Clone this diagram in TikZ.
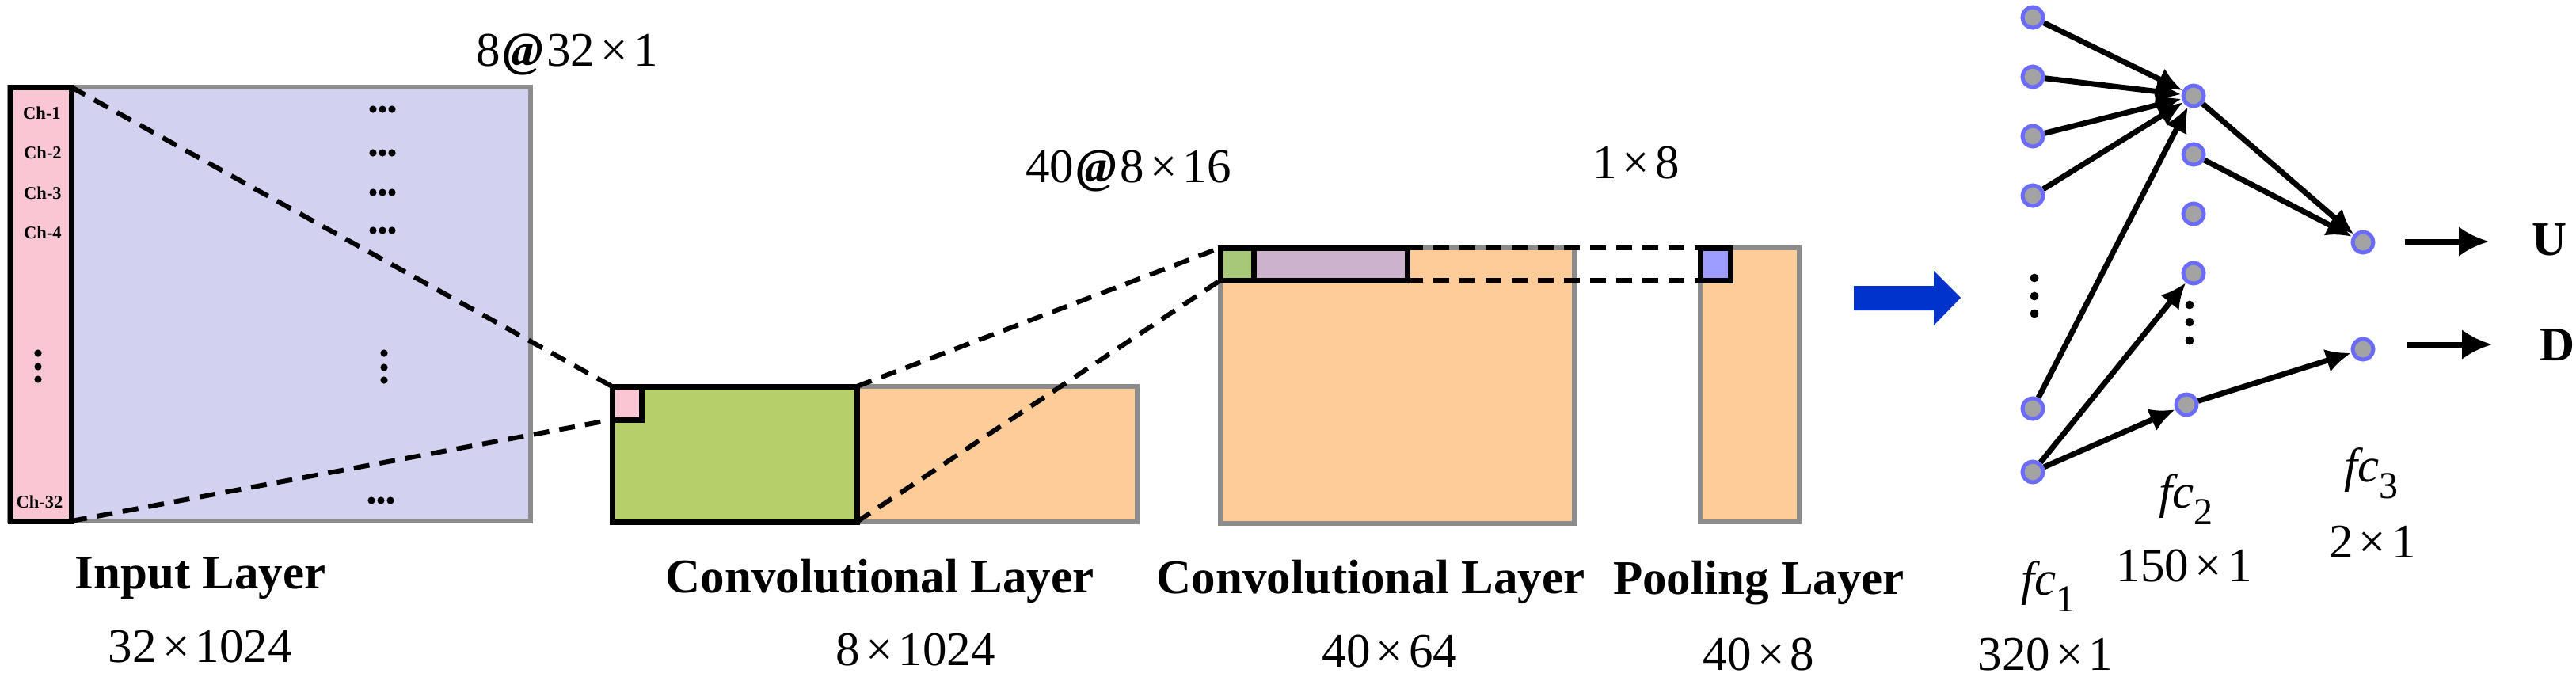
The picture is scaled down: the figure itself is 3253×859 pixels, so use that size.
\documentclass[tikz,border=0pt]{standalone}
\usepackage{fontspec}
\setmainfont{Liberation Serif}
\usetikzlibrary{arrows.meta}
\definecolor{lav}{RGB}{210,210,240}
\definecolor{pinkc}{RGB}{250,198,211}
\definecolor{greenc}{RGB}{182,207,106}
\definecolor{orangec}{RGB}{254,204,153}
\definecolor{purpc}{RGB}{204,178,204}
\definecolor{sgreen}{RGB}{166,200,120}
\definecolor{spurp}{RGB}{157,157,255}
\definecolor{grayb}{RGB}{140,140,140}
\definecolor{nodefill}{RGB}{163,163,163}
\definecolor{noderim}{RGB}{107,107,255}
\definecolor{bluearr}{RGB}{0,51,204}
\newcommand{\fcsub}[1]{\raisebox{-0.36em}{\fontsize{24}{24}\selectfont\upshape #1}}
\newcommand{\tms}{\hspace{0.12em}×\hspace{0.12em}}
\begin{document}
\begin{tikzpicture}[x=0.5pt,y=-0.5pt,
  box/.style={rectangle, anchor=north west, inner sep=0pt, outer sep=0pt},
  graybox/.style={box, draw=grayb, line width=3pt},
  blackbox/.style={box, draw=black, line width=3.5pt},
  dashline/.style={draw=black, line width=3pt, dash pattern=on 10pt off 6.5pt},
  lbl/.style={inner sep=0pt, anchor=base, font=\bfseries\fontsize{30.5}{36}\selectfont},
  dim/.style={inner sep=0pt, anchor=base, font=\fontsize{30.5}{36}\selectfont},
  chlbl/.style={inner sep=0pt, font=\bfseries\fontsize{11.25}{13}\selectfont},
  fcn/.style={circle, fill=nodefill, draw=noderim, line width=2.5pt, minimum size=13pt, inner sep=0pt},
  fcarr/.style={line width=3.5pt, -{Latex[length=16pt,width=15pt]}},
  outarr/.style={line width=3.5pt, -{Latex[length=19pt,width=19pt]}}
]
\useasboundingbox (0,0) rectangle (3253,859);

% ---------- Input layer ----------
\node[graybox, fill=lav, minimum width=329pt, minimum height=274pt] (inbox) at (12,110) {};
\node[blackbox, fill=pinkc, minimum width=38.5pt, minimum height=274pt] (pinkcol) at (13,110) {};
\node[chlbl] (ch1) at (53,143) {Ch-1};
\node[chlbl] (ch2) at (54,193) {Ch-2};
\node[chlbl] (ch3) at (54,244) {Ch-3};
\node[chlbl] (ch4) at (54,294) {Ch-4};
\node[chlbl] (ch32) at (50,634) {Ch-32};
% dots
\foreach \yy in {446,463,479} {\fill (48,\yy) circle (2.3pt);}
\foreach \yy in {446,464,480} {\fill (485,\yy) circle (2.3pt);}
\foreach \yy in {138,193,243,291} {\foreach \xx in {471,483,495} {\fill (\xx,\yy) circle (2.3pt);}}
\foreach \xx in {469,481,493} {\fill (\xx,632) circle (2.3pt);}

% ---------- Conv layer 1 ----------
\node[graybox, fill=orangec, minimum width=177pt, minimum height=85.5pt] (or1) at (1082,488) {};
\node[blackbox, fill=greenc, minimum width=154.5pt, minimum height=85.5pt] (green) at (773,488) {};
\node[blackbox, fill=pinkc, minimum width=18.5pt, minimum height=21pt] (spink) at (773,488) {};

% ---------- Conv layer 2 ----------
\node[graybox, fill=orangec, minimum width=223.5pt, minimum height=174pt] (or2) at (1541,313) {};
\node[blackbox, fill=purpc, minimum width=97pt, minimum height=20.5pt] (pbar) at (1583,313) {};
\node[blackbox, fill=sgreen, minimum width=21pt, minimum height=20.5pt] (sgreenb) at (1541,313) {};

% ---------- Pooling ----------
\node[graybox, fill=orangec, minimum width=62.5pt, minimum height=173pt] (pool) at (2147,313) {};
\node[blackbox, fill=spurp, minimum width=19pt, minimum height=20.5pt] (spurpb) at (2147,313) {};

% ---------- dashed projections ----------
\draw[dashline] (pinkcol.north east) -- (spink.north west);
\draw[dashline] (pinkcol.south east) -- (spink.south west);
\draw[dashline] (green.north east) -- (sgreenb.north west);
\draw[dashline] (green.south east) -- (sgreenb.south west);
\draw[dashline] (pbar.north east) -- (spurpb.north west);
\draw[dashline] (pbar.south east) -- (spurpb.south west);

% ---------- top labels ----------
\node[dim] (t1) at (716,83) {8\hspace{0.06em}{\bfseries\itshape @}\hspace{0.06em}32\tms1};
\node[dim] (t2) at (1425,230) {40\hspace{0.06em}{\bfseries\itshape @}\hspace{0.06em}8\tms16};
\node[dim] (t3) at (2066,225) {1\tms8};

% ---------- bottom labels ----------
\node[lbl] (l1) at (253,743) {Input Layer};
\node[dim] (d1) at (253,836) {32\tms1024};
\node[lbl] (l2) at (1111,748) {Convolutional Layer};
\node[dim] (d2) at (1156,840) {8\tms1024};
\node[lbl] (l3) at (1731,749) {Convolutional Layer};
\node[dim] (d3) at (1755,842) {40\tms64};
\node[lbl] (l4) at (2221,750) {Pooling Layer};
\node[dim] (d4) at (2221,846) {40\tms8};

% ---------- blue arrow ----------
\fill[bluearr] (2341,361) -- (2442,361) -- (2442,342) -- (2476,376) -- (2442,411) -- (2442,392) -- (2341,392) -- cycle;

% ---------- fully connected ----------
\node[fcn] (a1) at (2567,22) {};
\node[fcn] (a2) at (2567,97) {};
\node[fcn] (a3) at (2567,172) {};
\node[fcn] (a4) at (2567,247) {};
\node[fcn] (a5) at (2567,516) {};
\node[fcn] (a6) at (2567,596) {};
\foreach \yy in {351,374,396} {\fill (2569,\yy) circle (2.7pt);}

\node[fcn] (b1) at (2770,121) {};
\node[fcn] (b2) at (2770,195) {};
\node[fcn] (b3) at (2770,270) {};
\node[fcn] (b4) at (2770,345) {};
\node[fcn] (b5) at (2761,511) {};
\foreach \yy in {385,407,430} {\fill (2765,\yy) circle (2.7pt);}

\node[fcn] (c1) at (2984,306) {};
\node[fcn] (c2) at (2984,441) {};

\draw[fcarr] (a1) -- (b1);
\draw[fcarr] (a2) -- (b1);
\draw[fcarr] (a3) -- (b1);
\draw[fcarr] (a4) -- (b1);
\draw[fcarr] (a5) -- (b1);
\draw[fcarr] (a6) -- (b4);
\draw[fcarr] (a6) -- (b5);
\draw[fcarr] (b1) -- (c1);
\draw[fcarr] (b2) -- (c1);
\draw[fcarr] (b5) -- (c2);

\node[lbl] (U) at (3219,322) {U};
\node[lbl] (D) at (3229,455) {D};
\coordinate (u0) at (3037,305);
\coordinate (u1) at (3143,305);
\coordinate (d0) at (3040,435);
\coordinate (d1e) at (3147,435);
\draw[outarr] (u0) -- (u1);
\draw[outarr] (d0) -- (d1e);

\node[dim, anchor=base west] (f1) at (2552,751) {\itshape fc\fcsub{1}};
\node[dim] (n1) at (2583,846) {320\tms1};
\node[dim, anchor=base west] (f2) at (2726,641) {\itshape fc\fcsub{2}};
\node[dim] (n2) at (2758,734) {150\tms1};
\node[dim, anchor=base west] (f3) at (2960,608) {\itshape fc\fcsub{3}};
\node[dim] (n3) at (2996,704) {2\tms1};
\end{tikzpicture}
\end{document}
